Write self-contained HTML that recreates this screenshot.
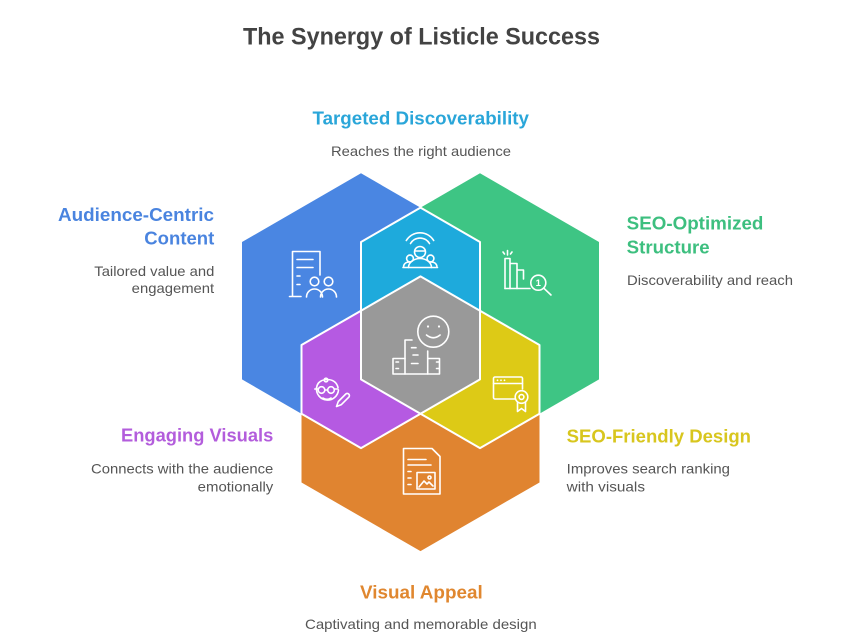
<!DOCTYPE html>
<html>
<head>
<meta charset="utf-8">
<style>
  html,body{margin:0;padding:0;background:#fff;}
  svg{display:block;}
  text{font-family:"Liberation Sans", Arial, sans-serif;}
  .h{font-weight:bold;font-size:18px;}
  .d{font-size:14px;fill:#555;}
  .ic{fill:none;stroke:#fff;stroke-width:1.6;stroke-linecap:round;stroke-linejoin:round;}
</style>
</head>
<body>
<svg width="842" height="644" viewBox="0 0 842 644" xmlns="http://www.w3.org/2000/svg">
  <rect width="842" height="644" fill="#fff"/>

  <!-- Title -->
  <text x="243" y="44.5" font-size="24" font-weight="bold" fill="#434343" textLength="357" lengthAdjust="spacingAndGlyphs">The Synergy of Listicle Success</text>

  <!-- Big hexagons -->
  <polygon points="361,173.3 480,242 480,379.4 361,448.1 242,379.4 242,242" fill="#4a86e2"/>
  <polygon points="480,173.3 599,242 599,379.4 480,448.1 361,379.4 361,242" fill="#3ec584"/>
  <polygon points="420.5,276.35 539.5,345.05 539.5,482.45 420.5,551.15 301.5,482.45 301.5,345.05" fill="#e08430"/>

  <!-- Intersections -->
  <g stroke="#fff" stroke-width="2" stroke-linejoin="round">
    <polygon points="420.5,207.65 480,242 480,310.7 420.5,345.05 361,310.7 361,242" fill="#1eaadc"/>
    <polygon points="361,310.7 420.5,345.05 420.5,413.75 361,448.1 301.5,413.75 301.5,345.05" fill="#b55ae2"/>
    <polygon points="480,310.7 539.5,345.05 539.5,413.75 480,448.1 420.5,413.75 420.5,345.05" fill="#ddca16"/>
    <polygon points="420.5,276.35 480,310.7 480,379.4 420.5,413.75 361,379.4 361,310.7" fill="#999999"/>
  </g>

  <!-- Blue icon: document + people -->
  <g class="ic">
    <path d="M320,275 V251.5 H292.5 V296.5 M289.5,296.5 H301"/>
    <path d="M297,259.5 H313 M297,267.5 H313 M297,276 H300 M297,284.5 H300"/>
    <circle cx="314.5" cy="281.5" r="4.3"/>
    <circle cx="328.5" cy="281.5" r="4.3"/>
    <path d="M306.5,297 a8,8 0 0 1 16,0 M320.5,297 a8,8 0 0 1 16,0"/>
  </g>

  <!-- Cyan icon: wifi + people -->
  <g class="ic">
    <path d="M406.3,240.5 A16,16 0 0 1 433.7,240.5"/>
    <path d="M410.5,243.5 A11,11 0 0 1 429.5,243.5"/>
    <circle cx="420" cy="252" r="5.5"/>
    <path d="M415,251 H425"/>
    <circle cx="410" cy="258.5" r="3.4"/>
    <circle cx="430.5" cy="258.5" r="3.4"/>
    <path d="M408.5,267.5 a11.5,9 0 0 1 23,0"/>
    <path d="M403,267.5 H437.5 M403.5,267.5 q0,-5.5 6.5,-5.5 M437,267.5 q0,-5.5 -6.5,-5.5"/>
  </g>

  <!-- Gray icon: podium + smiley -->
  <g class="ic">
    <circle cx="433.3" cy="331.7" r="15.5"/>
    <path d="M426.5,335 q6.8,5.5 13.6,0"/>
    <path d="M412,340 H405 V358.5 H393 V374 H439.5 V358.5 H427.7 V351"/>
    <path d="M405,358.5 V374 M427.7,358.5 V374"/>
    <path d="M396,362 H398.5 M396,368.5 H398.5 M411.5,347.7 H416 M413,355 H418 M411.5,363.5 H418 M436.5,362 H439 M436.5,368.5 H439"/>
  </g>
  <g fill="#fff">
    <circle cx="428" cy="326.5" r="1.1"/>
    <circle cx="439" cy="326.5" r="1.1"/>
  </g>

  <!-- Purple icon: face with glasses + pencil -->
  <g class="ic">
    <path d="M316.5,388 a11,11 0 1 0 22,2"/>
    <path d="M316.5,388 q1,-8 10.5,-8.5 q9,0 11,8"/>
    <circle cx="326" cy="380" r="1.8"/>
    <circle cx="321.5" cy="390" r="3.3"/>
    <circle cx="331" cy="390" r="3.3"/>
    <path d="M324.8,390 H327.7 M314.8,389 H318.2 M334.3,389 H338"/>
    <path d="M323,398 q4,2.5 8,0"/>
    <path d="M336.5,406.5 l1.8,-5 l7.5,-7.5 a2.2,2.2 0 0 1 3.1,3.1 l-7.5,7.5 z"/>
  </g>

  <!-- Yellow icon: browser + badge -->
  <g class="ic">
    <path d="M515,399 H495 a1.5,1.5 0 0 1 -1.5,-1.5 V378.5 a1.5,1.5 0 0 1 1.5,-1.5 H521 a1.5,1.5 0 0 1 1.5,1.5 V389"/>
    <path d="M493.5,383.5 H522.5"/>
    <circle cx="521.5" cy="397" r="6.3"/>
    <circle cx="521.5" cy="397" r="2.4"/>
    <path d="M517.5,402 V411.5 L521.5,408.5 L525.5,411.5 V402"/>
  </g>
  <g fill="#fff">
    <circle cx="497.5" cy="380.3" r="0.9"/>
    <circle cx="501" cy="380.3" r="0.9"/>
    <circle cx="504.5" cy="380.3" r="0.9"/>
  </g>

  <!-- Orange icon: document with image -->
  <g class="ic">
    <path d="M432,448.5 H403.5 V494 H440 V456.5 Z"/>
    <path d="M408,459.5 H426 M408,465 H431 M408,471.5 H411 M408,478 H411 M408,484.5 H411"/>
    <rect x="417" y="472.5" width="18" height="16.5"/>
    <path d="M419,487 l5,-6 l3,3 l2,-2 l4,4"/>
    <circle cx="429.5" cy="477.5" r="1.5"/>
  </g>

  <!-- Green icon: bars + magnifier -->
  <g class="ic">
    <path d="M505,288.5 V258.5 H510 V288.5 M510,263.5 H517 V288.5 M517,270 H523.5 V279"/>
    <path d="M505,288.5 H530"/>
    <path d="M507.5,255 V250.5 M503,252 l1.5,2 M512,252 l-1.5,2"/>
    <circle cx="538.3" cy="282.7" r="7.5"/>
    <path d="M543.8,288.2 L551,295"/>
  </g>
  <text x="538.3" y="286.2" font-size="9.5" font-weight="bold" fill="#fff" text-anchor="middle">1</text>

  <!-- Labels -->
  <text class="h" x="312.5" y="124.5" fill="#2aa6d9" textLength="216.5" lengthAdjust="spacingAndGlyphs">Targeted Discoverability</text>
  <text class="d" x="331" y="156" textLength="180" lengthAdjust="spacingAndGlyphs">Reaches the right audience</text>

  <text class="h" x="58" y="221" fill="#4a84df" textLength="156" lengthAdjust="spacingAndGlyphs">Audience-Centric</text>
  <text class="h" x="144.3" y="244.5" fill="#4a84df" textLength="70" lengthAdjust="spacingAndGlyphs">Content</text>
  <text class="d" x="94.3" y="276" textLength="120" lengthAdjust="spacingAndGlyphs">Tailored value and</text>
  <text class="d" x="131.7" y="293" textLength="82.5" lengthAdjust="spacingAndGlyphs">engagement</text>

  <text class="h" x="626.7" y="229.3" fill="#3dbf7f" textLength="136.7" lengthAdjust="spacingAndGlyphs">SEO-Optimized</text>
  <text class="h" x="626.7" y="253.3" fill="#3dbf7f" textLength="83" lengthAdjust="spacingAndGlyphs">Structure</text>
  <text class="d" x="627" y="285" textLength="166" lengthAdjust="spacingAndGlyphs">Discoverability and reach</text>

  <text class="h" x="121" y="441.7" fill="#b35ddc" textLength="152.3" lengthAdjust="spacingAndGlyphs">Engaging Visuals</text>
  <text class="d" x="91" y="473.3" textLength="182.3" lengthAdjust="spacingAndGlyphs">Connects with the audience</text>
  <text class="d" x="197.7" y="491.5" textLength="75.6" lengthAdjust="spacingAndGlyphs">emotionally</text>

  <text class="h" x="566.7" y="442.3" fill="#d8c61e" textLength="184.3" lengthAdjust="spacingAndGlyphs">SEO-Friendly Design</text>
  <text class="d" x="566.7" y="473.3" textLength="163.3" lengthAdjust="spacingAndGlyphs">Improves search ranking</text>
  <text class="d" x="566.7" y="491.3" textLength="78.3" lengthAdjust="spacingAndGlyphs">with visuals</text>

  <text class="h" x="360" y="598.3" fill="#e0872f" textLength="122.7" lengthAdjust="spacingAndGlyphs">Visual Appeal</text>
  <text class="d" x="305" y="629" textLength="231.7" lengthAdjust="spacingAndGlyphs">Captivating and memorable design</text>
</svg>
</body>
</html>
